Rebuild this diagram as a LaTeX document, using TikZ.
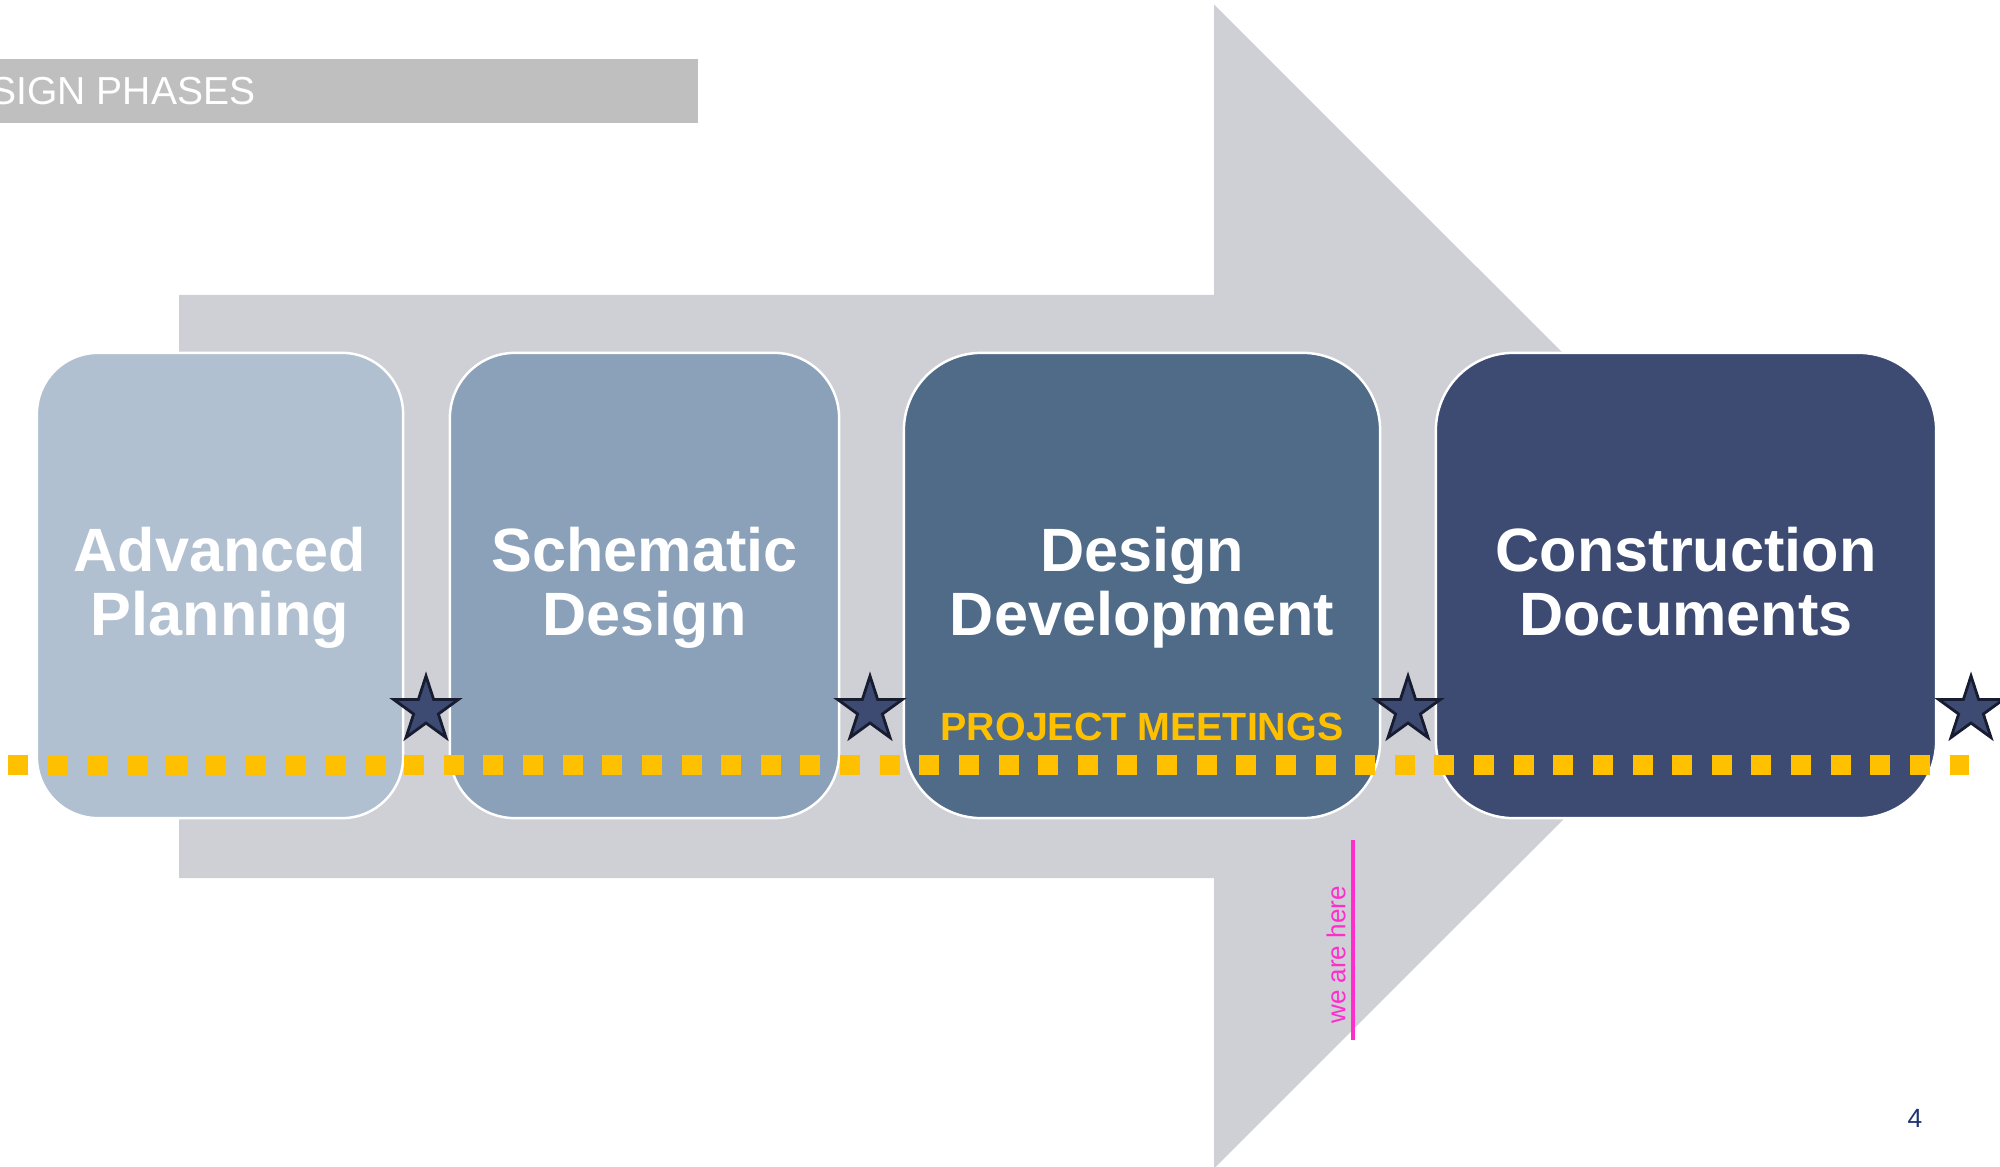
\documentclass[tikz,border=0pt]{standalone}
\usepackage{fontspec}
\setmainfont{Liberation Sans}
\usetikzlibrary{shapes.geometric}
\definecolor{arrowgray}{RGB}{207,208,214}
\definecolor{bannergray}{RGB}{191,191,191}
\definecolor{phaseA}{RGB}{177,192,208}
\definecolor{phaseB}{RGB}{139,161,185}
\definecolor{phaseC}{RGB}{80,107,135}
\definecolor{phaseD}{RGB}{61,75,115}
\definecolor{stardark}{RGB}{24,28,48}
\definecolor{meetgold}{RGB}{255,192,0}
\definecolor{herepink}{RGB}{255,45,204}
\definecolor{pagenavy}{RGB}{28,52,112}
\tikzstyle{phase}=[rectangle,draw=white,line width=0.7pt,minimum height=4.65cm,inner sep=0pt]
\tikzstyle{phase text}=[text=white,font=\fontsize{17.4pt}{18.2pt}\selectfont\bfseries,align=center,inner sep=0pt,anchor=north]
\tikzstyle{milestone}=[star,star points=5,star point ratio=2.618,minimum size=0.68cm,inner sep=0pt,fill=phaseD,draw=stardark,line width=0.8pt]
\tikzstyle{meetings}=[draw=meetgold,line width=0.2cm,dash pattern=on 0.2cm off 0.196cm]

\begin{document}
\begin{tikzpicture}[x=0.01cm,y=-0.01cm]
    \path[use as bounding box] (0,0) rectangle (2000,1167);
    \clip (0,0) rectangle (2000,1167);
    % First we draw the big arrow and the banner
    \fill[arrowgray] (179,295) -- (1214,295) -- (1214,4.5) -- (1796.5,586.5) -- (1214,1168.5) -- (1214,878) -- (179,878) -- cycle;
    \fill[bannergray] (0,59) rectangle (698,123);
    \node[text=white,font=\fontsize{11.1pt}{13pt}\selectfont,inner sep=0pt,anchor=base east] (banner) at (256,105) {SIGN PHASES};

    % Then the phase boxes
    \foreach \pos/\boxw/\rad/\col/\name in {{(220,585.5)/3.66/0.61/phaseA/ap}, {(644.5,585.5)/3.89/0.65/phaseB/sd}, {(1142,585.5)/4.76/0.775/phaseC/dd}, {(1686,585.5)/5.0/0.775/phaseD/cd}}
        \node[phase,fill=\col,minimum width=\boxw cm,rounded corners=\rad cm] (\name) at \pos {};

    \foreach \name/\txt in {ap/{Advanced\\Planning}, sd/{Schematic\\Design}, dd/{Design\\Development}, cd/{Construction\\Documents}}
        \node[phase text] (\name-t) at (\name.center |- 0,526) {\txt};

    % Milestones between the phases
    \foreach \x/\name in {426/m1, 870/m2, 1408/m3, 1971/m4}
        \node[milestone] (\name) at (\x,710) {};

    % Meetings run all along
    \coordinate (meet start) at (8,765);
    \coordinate (meet end) at (1969,765);
    \path[meetings] (meet start) -- (meet end);
    \node[text=meetgold,font=\fontsize{11.2pt}{13pt}\selectfont\bfseries,inner sep=0pt] (meet) at (1142,726.5) {PROJECT MEETINGS};

    % we are here
    \coordinate (here top) at (1353,840);
    \coordinate (here bot) at (1353,1040);
    \draw[herepink,line width=1.2pt] (here top) -- (here bot);
    \node[text=herepink,font=\fontsize{7.4pt}{9pt}\selectfont,rotate=90,inner sep=0pt] (here) at (1336,955) {we are here};

    \node[text=pagenavy,font=\fontsize{7.5pt}{9pt}\selectfont,inner sep=0pt] (page) at (1915,1118) {4};
\end{tikzpicture}
\end{document}
